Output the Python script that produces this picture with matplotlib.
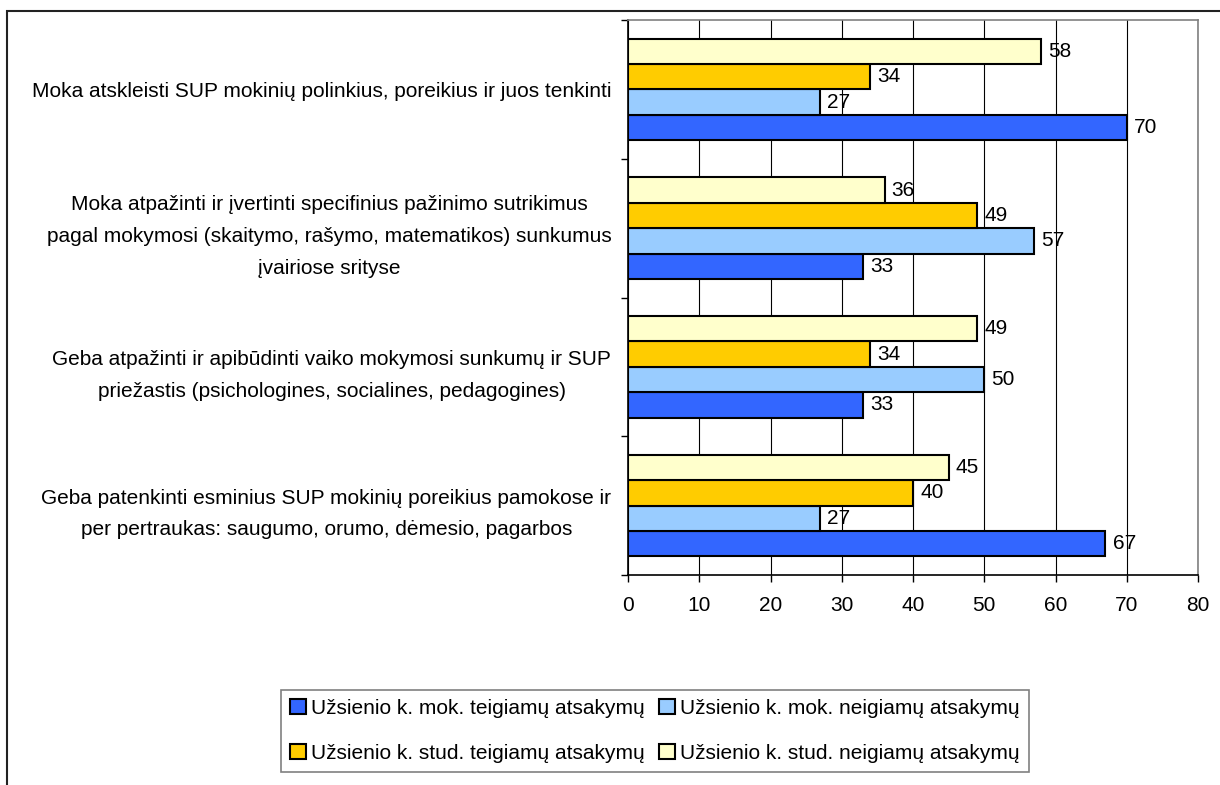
import numpy as np
import matplotlib.pyplot as plt
from matplotlib.patches import Rectangle

plt.rcParams['font.family'] = ['Liberation Sans', 'DejaVu Sans']

categories = [
    "Moka atskleisti SUP mokinių polinkius, poreikius ir juos tenkinti",
    "Moka atpažinti ir įvertinti specifinius pažinimo sutrikimus\n"
    "pagal mokymosi (skaitymo, rašymo, matematikos) sunkumus\n"
    "įvairiose srityse",
    "Geba atpažinti ir apibūdinti vaiko mokymosi sunkumų ir SUP\n"
    "priežastis (psichologines, socialines, pedagogines)",
    "Geba patenkinti esminius SUP mokinių poreikius pamokose ir\n"
    "per pertraukas: saugumo, orumo, dėmesio, pagarbos",
]

series_names = [
    "Užsienio k. mok. teigiamų atsakymų",
    "Užsienio k. mok. neigiamų atsakymų",
    "Užsienio k. stud. teigiamų atsakymų",
    "Užsienio k. stud. neigiamų atsakymų",
]
mok_teig = [70, 33, 33, 67]
mok_neig = [27, 57, 50, 27]
stud_teig = [34, 49, 34, 40]
stud_neig = [58, 36, 49, 45]
series_values = [mok_teig, mok_neig, stud_teig, stud_neig]
colors = ["#3366FF", "#99CCFF", "#FFCC00", "#FFFFCC"]

fs = 15

fig = plt.figure(figsize=(12.2, 7.85), dpi=100)
ax = fig.add_axes([628 / 1220, 1 - 575 / 785, 570 / 1220, 555 / 785])

pos = np.arange(len(categories))
h = 0.183
# bottom bar in each group is the first series
offsets = [1.5 * h, 0.5 * h, -0.5 * h, -1.5 * h]
handles = []
for vals, name, col, off in zip(series_values, series_names, colors, offsets):
    b = ax.barh(pos + off, vals, height=h, color=col, edgecolor="black",
                linewidth=1.5, label=name, zorder=3)
    handles.append(b)
    for y, v in zip(pos + off, vals):
        ax.text(v + 1.0, y, str(v), va="center", ha="left", fontsize=fs,
                zorder=4)

ax.set_xlim(0, 80)
ax.set_ylim(3.5, -0.5)
ax.set_xticks(np.arange(0, 81, 10))
ax.tick_params(axis="x", direction="out", length=5, width=1, labelsize=fs,
               pad=10)
ax.set_yticks(pos)
ax.set_yticklabels(categories, fontsize=fs, multialignment="center",
                   linespacing=1.85)
ax.tick_params(axis="y", which="major", length=0, pad=12)
ax.set_yticks(np.arange(-0.5, 3.6, 1), minor=True)
ax.tick_params(axis="y", which="minor", direction="out", length=5, width=1)

ax.grid(axis="x", color="black", linewidth=0.8, zorder=0)
for side in ["top", "right"]:
    ax.spines[side].set_color("#808080")
    ax.spines[side].set_linewidth(1.2)
for side in ["left", "bottom"]:
    ax.spines[side].set_color("black")
    ax.spines[side].set_linewidth(1.2)

# outer chart border (runs off the right and bottom edges)
fig.patches.append(Rectangle((7 / 1220, -0.1), 1.2, 1.1 - 11 / 785,
                             transform=fig.transFigure, fill=False,
                             edgecolor="#222222", linewidth=1.5))

leg = fig.legend([handles[0], handles[2], handles[1], handles[3]],
                 [series_names[0], series_names[2], series_names[1],
                  series_names[3]],
                 ncol=2, loc="center", bbox_to_anchor=(655 / 1220, 1 - 731 / 785),
                 fontsize=fs, frameon=True, fancybox=False, framealpha=1,
                 edgecolor="#808080", handlelength=0.75, handleheight=0.75,
                 handletextpad=0.25, columnspacing=0.7, labelspacing=1.25,
                 borderpad=0.45)
leg.get_frame().set_linewidth(1.2)

fig.savefig("out.png", dpi=100)
